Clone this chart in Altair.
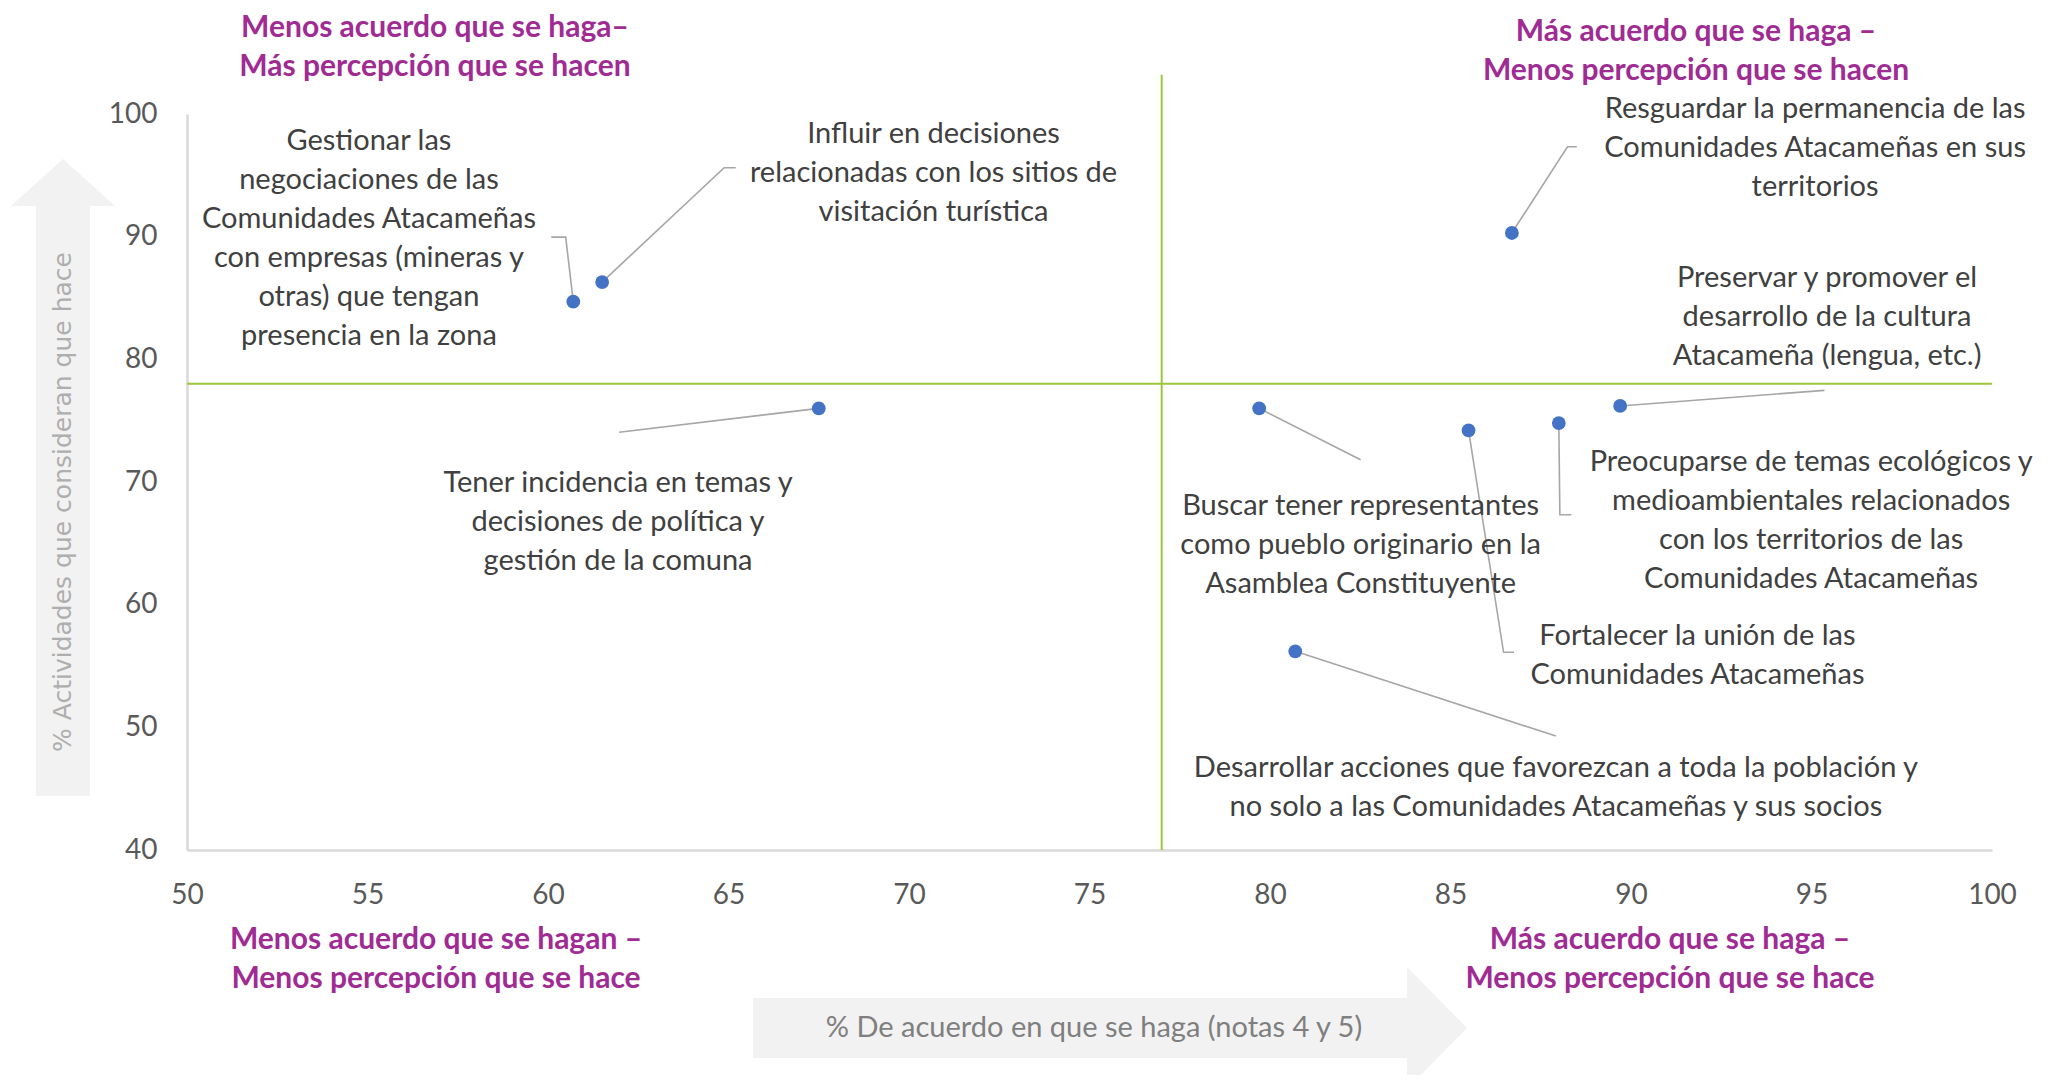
import altair as alt
import pandas as pd

# ---------------- data ----------------
actividades = [
    "Gestionar negociaciones", "Influir en decisiones", "Tener incidencia",
    "Resguardar permanencia", "Buscar representantes", "Fortalecer unión",
    "Preocuparse temas ecológicos", "Preservar cultura", "Desarrollar acciones",
]
acuerdo = [60.7, 61.5, 67.5, 86.7, 79.7, 85.5, 88.0, 89.7, 80.7]
hace = [84.7, 86.3, 76.0, 90.3, 76.0, 74.2, 74.8, 76.2, 56.2]

etiquetas = [
    "Gestionar las\nnegociaciones de las\nComunidades Atacameñas\ncon empresas (mineras y\notras) que tengan\npresencia en la zona",
    "Influir en decisiones\nrelacionadas con los sitios de\nvisitación turística",
    "Tener incidencia en temas y\ndecisiones de política y\ngestión de la comuna",
    "Resguardar la permanencia de las\nComunidades Atacameñas en sus\nterritorios",
    "Buscar tener representantes\ncomo pueblo originario en la\nAsamblea Constituyente",
    "Fortalecer la unión de las\nComunidades Atacameñas",
    "Preocuparse de temas ecológicos y\nmedioambientales relacionados\ncon los territorios de las\nComunidades Atacameñas",
    "Preservar y promover el\ndesarrollo de la cultura\nAtacameña (lengua, etc.)",
    "Desarrollar acciones que favorezcan a toda la población y\nno solo a las Comunidades Atacameñas y sus socios",
]
etiqueta_x = [55.04, 70.68, 61.94, 95.10, 82.51, 91.84, 94.99, 95.43, 87.92]
etiqueta_y = [98.95, 99.48, 71.08, 101.51, 69.16, 58.59, 72.79, 87.74, 47.81]

# leader-line elbows (after the point itself)
guia_x = [[60.49, 60.09], [64.88, 65.20], [61.97], [88.24, 88.50], [82.51],
          [86.47, 86.76], [88.03, 88.35], [95.36], [87.92]]
guia_y = [[89.96, 89.96], [95.62, 95.62], [74.06], [97.33, 97.33], [71.81],
          [56.12, 56.12], [67.33, 67.33], [77.47], [49.29]]

umbral_x = 77.0
umbral_y = 78.0
umbral_y_top = 103.2

titulo_x = "% De acuerdo en que se haga (notas 4 y 5)"
titulo_y = "% Actividades que consideran que hace"
cuadrantes = [
    "Menos acuerdo que se haga–\nMás percepción que se hacen",
    "Más acuerdo que se haga –\nMenos percepción que se hacen",
    "Menos acuerdo que se hagan –\nMenos percepción que se hace",
    "Más acuerdo que se haga –\nMenos percepción que se hace",
]

# ---------------- tables ----------------
puntos = pd.DataFrame({"actividad": actividades, "acuerdo": acuerdo, "hace": hace})
etq = pd.DataFrame({"actividad": actividades, "texto": etiquetas,
                    "ex": etiqueta_x, "ey": etiqueta_y})
filas = []
for i, a in enumerate(actividades):
    filas.append({"actividad": a, "orden": 0, "gx": acuerdo[i], "gy": hace[i]})
    for j, (gx, gy) in enumerate(zip(guia_x[i], guia_y[i])):
        filas.append({"actividad": a, "orden": j + 1, "gx": gx, "gy": gy})
guias = pd.DataFrame(filas)

FONT = "Lato"
GREEN = "#9DC73B"
PURPLE = "#A02B93"
ARROW = "#F2F2F2"

xs = alt.Scale(domain=[50, 100])
ys = alt.Scale(domain=[40, 100])

one = pd.DataFrame({"k": [0]})

# ---------------- decorations (arrows) ----------------
v_shaft = alt.Chart(one).mark_rect(color=ARROW).encode(
    x=alt.value(-151), x2=alt.value(-97), y=alt.value(92), y2=alt.value(682))
v_head = alt.Chart(one).mark_point(
    shape="M-1,0.452L0,-0.452L1,0.452Z", filled=True, color=ARROW, opacity=1,
    size=10816, strokeWidth=0).encode(x=alt.value(-124), y=alt.value(68.5))
h_shaft = alt.Chart(one).mark_rect(color=ARROW).encode(
    x=alt.value(566), x2=alt.value(1220), y=alt.value(884), y2=alt.value(944))
h_head = alt.Chart(one).mark_point(
    shape="M-0.492,-1L0.492,0L-0.492,1Z", filled=True, color=ARROW, opacity=1,
    size=14884, strokeWidth=0).encode(x=alt.value(1250), y=alt.value(914))

y_title = alt.Chart(pd.DataFrame({"t": [titulo_y]})).mark_text(
    angle=270, font="DejaVu Sans", fontSize=25, color="#AEAEAE",
    align="center", baseline="middle").encode(
    x=alt.value(-124), y=alt.value(388), text="t:N")
x_title = alt.Chart(pd.DataFrame({"t": [titulo_x]})).mark_text(
    font=FONT, fontSize=29, color="#7F7F7F", align="center",
    baseline="middle").encode(x=alt.value(907), y=alt.value(914), text="t:N")

# ---------------- thresholds ----------------
vline = alt.Chart(pd.DataFrame({"x": [umbral_x], "y1": [40], "y2": [umbral_y_top]})).mark_rule(
    color=GREEN, strokeWidth=2).encode(
    x=alt.X("x:Q", scale=xs), y=alt.Y("y1:Q", scale=ys), y2="y2:Q")
hline = alt.Chart(pd.DataFrame({"y": [umbral_y], "x1": [50], "x2": [100]})).mark_rule(
    color=GREEN, strokeWidth=2).encode(
    y=alt.Y("y:Q", scale=ys), x=alt.X("x1:Q", scale=xs), x2="x2:Q")

# ---------------- leader lines ----------------
lines = alt.Chart(guias).mark_line(color="#A6A6A6", strokeWidth=1.6).encode(
    x=alt.X("gx:Q", scale=xs), y=alt.Y("gy:Q", scale=ys),
    detail="actividad:N", order="orden:Q")

# ---------------- points ----------------
pts = alt.Chart(puntos).mark_circle(color="#4472C4", size=190, opacity=1).encode(
    x=alt.X("acuerdo:Q", scale=xs,
            axis=alt.Axis(title=None, values=list(range(50, 101, 5)),
                          labelPadding=31, labelFlush=False)),
    y=alt.Y("hace:Q", scale=ys,
            axis=alt.Axis(title=None, values=list(range(40, 101, 10)),
                          labelPadding=30, labelFlush=False)),
)

labels = alt.Chart(etq).mark_text(
    font=FONT, fontSize=29, color="#404040", align="center", baseline="top",
    lineBreak="\n", lineHeight=39).encode(
    x=alt.X("ex:Q", scale=xs), y=alt.Y("ey:Q", scale=ys), text="texto:N")

# ---------------- quadrant titles ----------------
qpos = [(248, -101), (1509, -97), (249, 811), (1483, 811)]
quad = []
for t, (px, py) in zip(cuadrantes, qpos):
    quad.append(alt.Chart(pd.DataFrame({"t": [t]})).mark_text(
        font=FONT, fontSize=30, fontWeight="bold", color=PURPLE, align="center",
        baseline="top", lineBreak="\n", lineHeight=39).encode(
        x=alt.value(px), y=alt.value(py), text="t:N"))

chart = alt.layer(
    v_shaft, v_head, h_shaft, h_head, y_title, x_title,
    vline, hline, lines, pts, labels, *quad
).properties(
    width=1805, height=736,
    autosize=alt.AutoSizeParams(type="none"),
    padding={"left": 179, "top": 106, "right": 54, "bottom": 225},
).configure_view(stroke=None).configure_axis(
    grid=False, ticks=False, domainColor="#D9D9D9", domainWidth=2.5,
    labelFont=FONT, labelFontSize=28, labelColor="#595959",
)

chart.save("out.html", embed_options={"renderer": "svg", "actions": False})
